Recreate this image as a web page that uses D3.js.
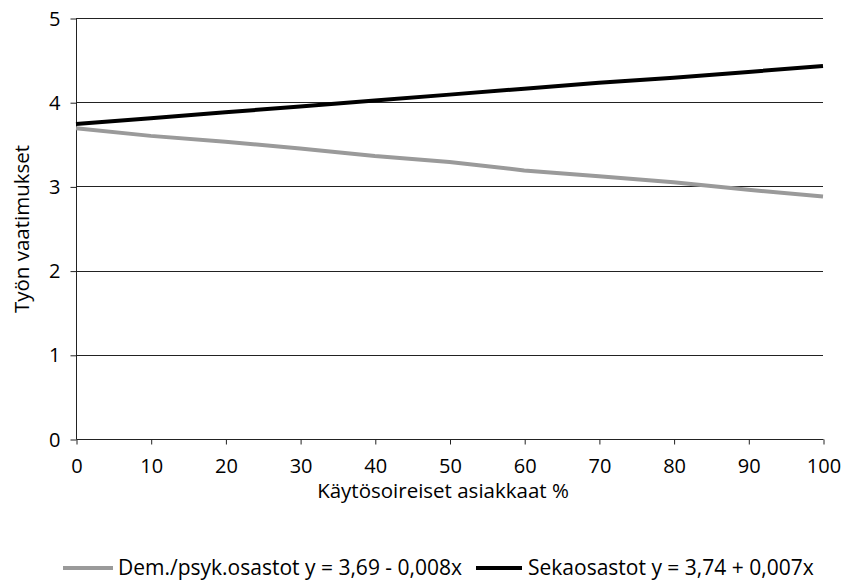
<!DOCTYPE html>
<html><head><meta charset="utf-8">
<script src="https://cdn.jsdelivr.net/npm/d3@7"></script>
<style>body{margin:0;background:#fff}text{font-family:"Open Sans","Noto Sans",sans-serif;fill:#000}</style>
</head><body><svg id="c" width="844" height="583"></svg>
<script>
const xValues = [0,10,20,30,40,50,60,70,80,90,100];
const demValues = [3.69,3.60,3.53,3.45,3.36,3.29,3.19,3.12,3.05,2.96,2.88];
const sekaValues = [3.74,3.81,3.88,3.95,4.02,4.09,4.16,4.23,4.29,4.36,4.43];
const yTicks = [0,1,2,3,4,5];
const seriesNames = ["Dem./psyk.osastot y = 3,69 - 0,008x","Sekaosastot y = 3,74 + 0,007x"];
const xTitle = "Käytösoireiset asiakkaat %";
const yTitle = "Työn vaatimukset";

const svg = d3.select("#c");
const x = d3.scaleLinear().domain([0,100]).range([76,823]);
const y = d3.scaleLinear().domain([0,5]).range([439,18]);
const FS = "20px", TFS = "20.5px", LFS = "21px";

// gridlines
svg.append("g").selectAll("line").data(yTicks.filter(d=>d>0)).join("line")
  .attr("x1",x(0)).attr("x2",x(100)).attr("y1",d=>Math.round(y(d))+0.5).attr("y2",d=>Math.round(y(d))+0.5)
  .attr("stroke","#222").attr("stroke-width",1);

// y axis
const ya = svg.append("g").attr("transform",`translate(${x(0)+0.5},0.5)`)
  .call(d3.axisLeft(y).tickValues(yTicks).tickSize(6).tickPadding(10).tickFormat(d3.format("d")));
ya.attr("font-family",null).attr("font-size",null);
ya.select(".domain").attr("stroke","#222").attr("d",`M0,${y(5)}V${y(0)}`);
ya.selectAll(".tick line").attr("stroke","#222");
ya.selectAll(".tick text").style("font-size",FS).attr("dy","0.33em");

// x axis
const xa = svg.append("g").attr("transform",`translate(0.5,${y(0)+0.5})`)
  .call(d3.axisBottom(x).tickValues(xValues).tickSize(5).tickPadding(14).tickFormat(d3.format("d")));
xa.attr("font-family",null).attr("font-size",null);
xa.select(".domain").attr("stroke","#222").attr("d",`M${x(0)},0H${x(100)}`);
xa.selectAll(".tick line").attr("stroke","#222");
xa.selectAll(".tick text").style("font-size",FS);

const line = d3.line().x((d,i)=>x(xValues[i])).y(d=>y(d));
svg.append("path").datum(demValues).attr("d",line).attr("fill","none").attr("stroke","#9a9a9a").attr("stroke-width",4);
svg.append("path").datum(sekaValues).attr("d",line).attr("fill","none").attr("stroke","#000").attr("stroke-width",4);

// titles
svg.append("text").attr("x",443).attr("y",498).attr("text-anchor","middle").style("font-size",TFS).text(xTitle);
svg.append("text").attr("transform","translate(29,229) rotate(-90)").attr("text-anchor","middle").style("font-size",TFS).text(yTitle);

// legend
const lg = svg.append("g");
const legendItems = [{name:seriesNames[0],color:"#9a9a9a",x1:63,x2:113,tx:118},{name:seriesNames[1],color:"#000",x1:476,x2:522,tx:528}];
legendItems.forEach(it=>{
  lg.append("line").attr("x1",it.x1).attr("x2",it.x2).attr("y1",568).attr("y2",568).attr("stroke",it.color).attr("stroke-width",4);
  lg.append("text").attr("x",it.tx).attr("y",568).attr("dy","0.35em").style("font-size",LFS).text(it.name);
});
</script></body></html>
